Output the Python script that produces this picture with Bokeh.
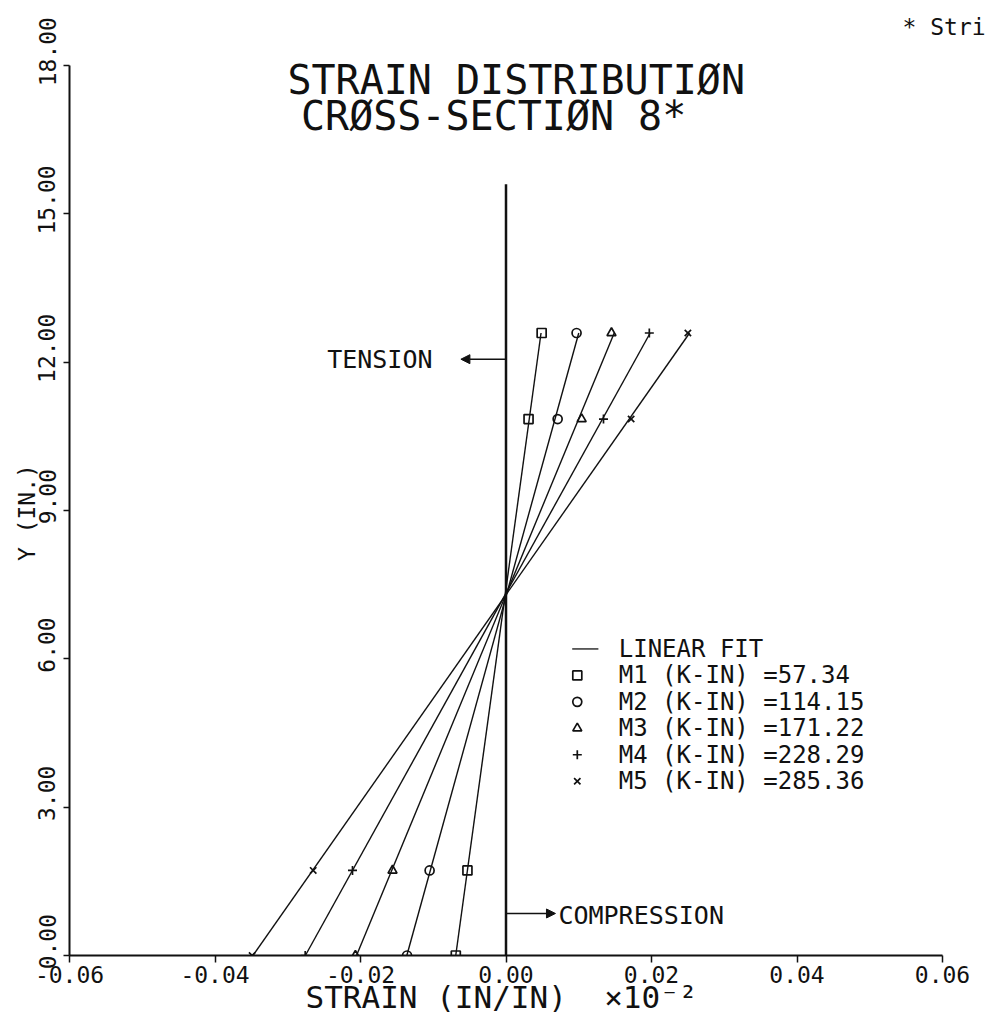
import numpy as np
from bokeh.plotting import figure
from bokeh.models import Range1d, FixedTicker, NumeralTickFormatter, Label, Arrow, NormalHead
from bokeh.embed import file_html
from bokeh.resources import INLINE

# Gauge heights above the bottom fibre (in.)
gauge_y = [0.0, 1.72, 10.85, 12.59]

# Measured strains (x 10^-2 in/in) at each gauge height, one list per load step
strain_m1 = [-0.0069, -0.0053, 0.0031, 0.0049]
strain_m2 = [-0.0136, -0.0105, 0.0071, 0.0097]
strain_m3 = [-0.0207, -0.0156, 0.0104, 0.0145]
strain_m4 = [-0.0276, -0.0211, 0.0134, 0.0197]
strain_m5 = [-0.0349, -0.0265, 0.0172, 0.0250]

series_names = ["M1", "M2", "M3", "M4", "M5"]
moments = [57.34, 114.15, 171.22, 228.29, 285.36]
marker_types = ["square", "circle", "triangle", "cross", "x"]

x_ticks = [-0.06, -0.04, -0.02, 0.0, 0.02, 0.04, 0.06]
y_ticks = [0, 3, 6, 9, 12, 15, 18]

FONT = "DejaVu Sans Mono"
INK = "#111111"
NBSP = "\u00a0"

# Page geometry: axes span x -0.06..0.06 over 873 px, y 0..18 over 890 px.
W, H = 989, 1021
LEFT, BOTTOM = 69, 66
X0, X1, Y0, Y1 = -0.06, 0.06, 0.0, 18.0
px_per_x = 873 / (X1 - X0)
px_per_y = 890 / (Y1 - Y0)
x_end = X1 + (W - LEFT - 873) / px_per_x      # let the frame run to the right edge
y_end = Y1 + (H - BOTTOM - 890) / px_per_y    # ... and to the top edge

p = figure(width=W, height=H,
           x_range=Range1d(X0, x_end), y_range=Range1d(Y0, y_end),
           output_backend="svg", toolbar_location=None,
           min_border_left=LEFT, min_border_right=0,
           min_border_top=0, min_border_bottom=BOTTOM)
p.background_fill_color = "white"
p.border_fill_color = "white"
p.outline_line_color = None
p.xgrid.visible = False
p.ygrid.visible = False

for ax in (p.xaxis[0], p.yaxis[0]):
    ax.axis_line_width = 2
    ax.axis_line_color = INK
    ax.major_tick_line_color = INK
    ax.major_tick_line_width = 1.5
    ax.minor_tick_line_color = None
    ax.major_tick_in = 0
    ax.major_label_text_font = FONT
    ax.major_label_text_font_size = "23px"
    ax.major_label_text_color = INK
    ax.formatter = NumeralTickFormatter(format="0.00")
    ax.axis_label_text_font = FONT
    ax.axis_label_text_font_style = "normal"
    ax.axis_label_text_color = INK

p.xaxis.bounds = (X0, X1)
p.xaxis.ticker = FixedTicker(ticks=x_ticks)
p.xaxis.major_tick_out = 7
p.xaxis.major_label_standoff = 3
# trailing spaces pull the centred title back over the axis itself
p.xaxis.axis_label = "STRAIN (IN/IN)" + NBSP * 2 + "×10⁻²" + NBSP * 3
p.xaxis.axis_label_text_font_size = "31px"
p.xaxis.axis_label_standoff = -7

p.yaxis.bounds = (Y0, Y1)
p.yaxis.ticker = FixedTicker(ticks=y_ticks)
p.yaxis.major_tick_out = 6
p.yaxis.major_label_standoff = 3
p.yaxis.major_label_orientation = "vertical"
# plotter-style labels sit a little above their ticks
p.yaxis.major_label_overrides = {t: NBSP * 2 + f"{t:.2f}" for t in y_ticks}
p.yaxis.axis_label = "Y (IN.)" + NBSP * 5
p.yaxis.axis_label_text_font_size = "23px"
p.yaxis.axis_label_standoff = -8

# Neutral reference line at zero strain
p.line([0, 0], [0, 15.6], line_color=INK, line_width=2.5)

series = [strain_m1, strain_m2, strain_m3, strain_m4, strain_m5]
ys = np.array(gauge_y)
for strains, marker in zip(series, marker_types):
    slope, icpt = np.polyfit(ys, np.array(strains), 1)
    ya, yb = ys.min(), ys.max()
    p.line([icpt + slope * ya, icpt + slope * yb], [ya, yb],
           line_color=INK, line_width=1.4)
    p.scatter(strains, gauge_y, marker=marker, size=9,
              line_color=INK, fill_color=None, line_width=1.7)


def add_text(x, y, text, size, align="left", font=FONT):
    p.add_layout(Label(x=x, y=y, text=text, text_font=font,
                       text_font_size=size, text_color=INK,
                       text_align=align, text_baseline="middle"))


# Titles and note
add_text(0.0014, 17.71, "STRAIN DISTRIBUTIØN", "40px", align="center")
add_text(-0.0017, 16.98, "CRØSS-SECTIØN 8*", "40px", align="center")
add_text(0.0545, 18.77, "* Stri", "23px")

# Tension / compression arrows
add_text(-0.0101, 12.05, "TENSION", "25px", align="right")
p.add_layout(Arrow(end=NormalHead(size=9, fill_color=INK, line_color=INK),
                   x_start=0, y_start=12.06, x_end=-0.0062, y_end=12.06,
                   line_color=INK, line_width=1.5))
add_text(0.0072, 0.81, "COMPRESSION", "25px")
p.add_layout(Arrow(end=NormalHead(size=9, fill_color=INK, line_color=INK),
                   x_start=0, y_start=0.85, x_end=0.0068, y_end=0.85,
                   line_color=INK, line_width=1.5))

# Key
key_x_mark = 0.0098
key_x_text = 0.0155
key_top = 6.2
key_step = 0.535
p.line([0.0091, 0.0127], [key_top, key_top], line_color=INK, line_width=1.3)
add_text(key_x_text, key_top, "LINEAR FIT", "24px")
for i, (name, mom, marker) in enumerate(zip(series_names, moments, marker_types)):
    yk = key_top - key_step * (i + 1)
    p.scatter([key_x_mark], [yk], marker=marker, size=9,
              line_color=INK, fill_color=None, line_width=1.7)
    add_text(key_x_text, yk, f"{name} (K-IN) ={mom:.2f}", "24px")

open("out.html", "w").write(file_html(p, INLINE))
